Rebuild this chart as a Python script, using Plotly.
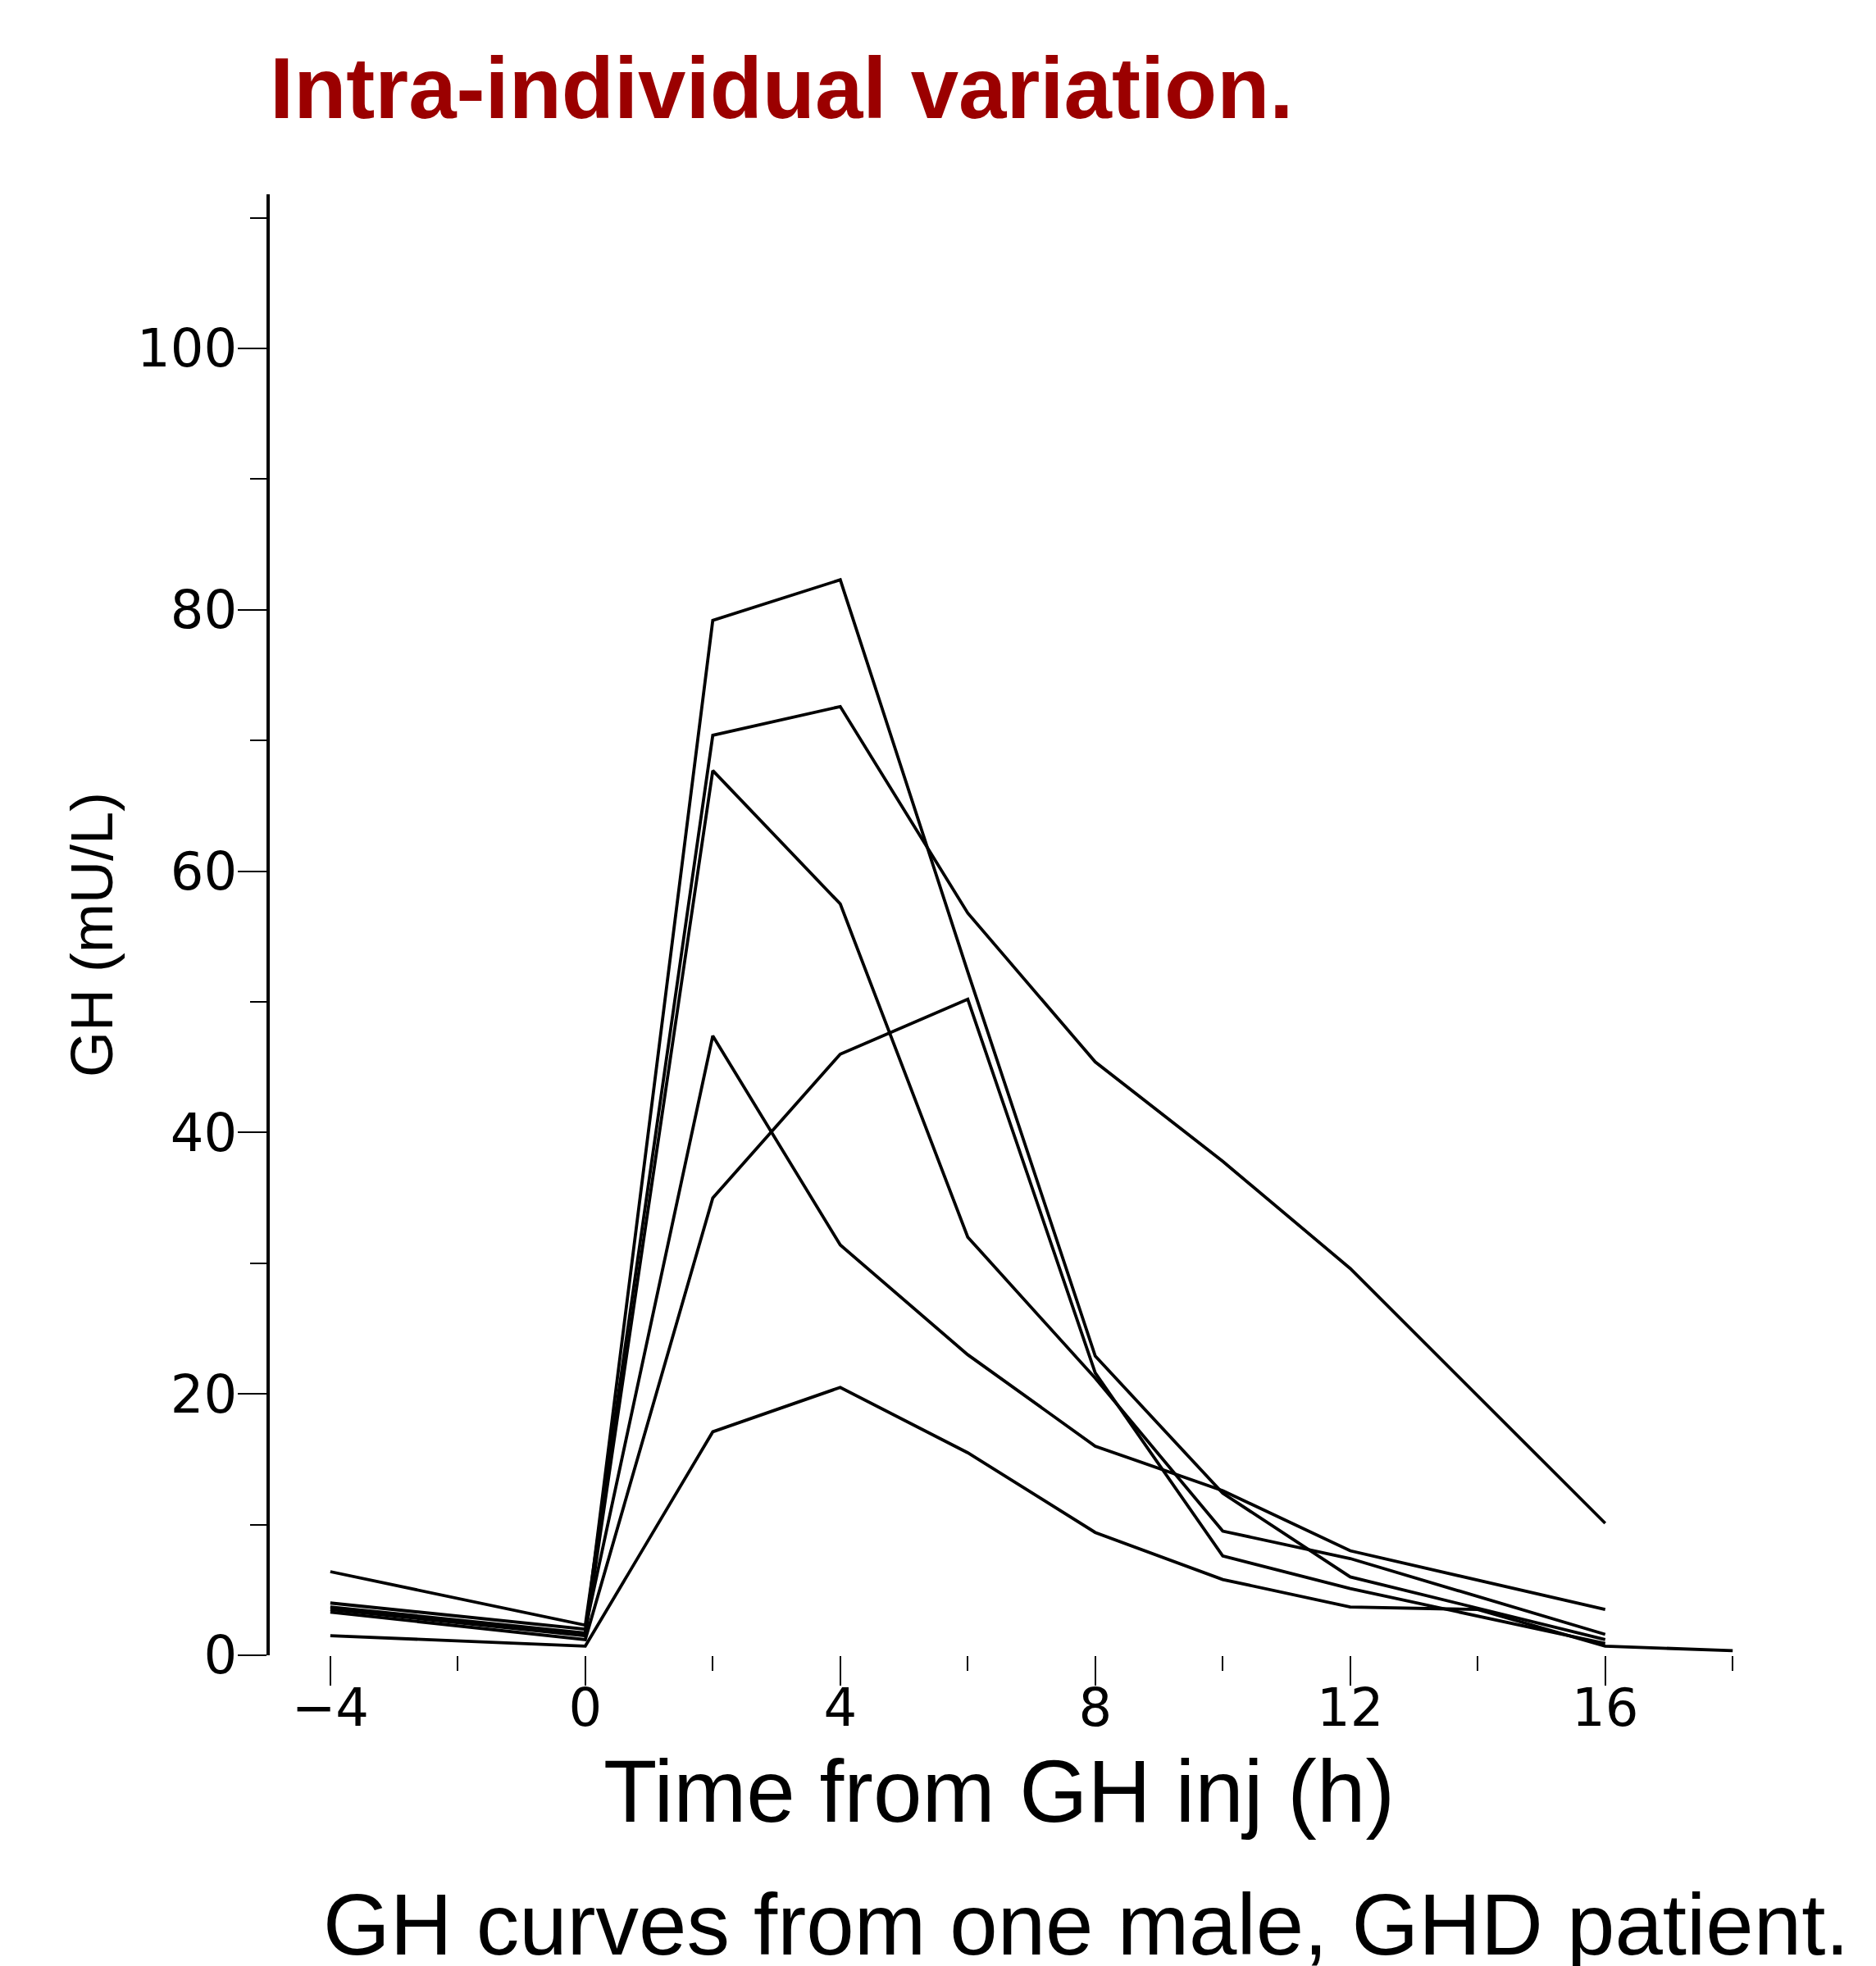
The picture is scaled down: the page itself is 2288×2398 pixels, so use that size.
import plotly.graph_objects as go

# --- data ---
t_std = [-4, 0, 2, 4, 6, 8, 10, 12, 16]
gh_a = [3.7, 1.7, 79.2, 82.3, 52.3, 22.9, 12.4, 6.0, 1.2]
gh_b = [6.4, 2.3, 70.4, 72.6, 56.8, 45.4, 37.8, 29.6, 10.1]
gh_c = [3.5, 1.5, 67.7, 57.5, 32.0, 21.2, 9.5, 7.4, 1.6]
gh_d = [4.0, 2.0, 47.4, 31.4, 23.0, 16.0, 12.6, 8.0, 3.5]
gh_e = [3.3, 1.2, 35.0, 46.0, 50.2, 21.6, 7.6, 5.1, 0.9]
t_f = [-4, 0, 2, 4, 6, 8, 10, 12, 14, 16, 18]
gh_f = [1.5, 0.7, 17.1, 20.5, 15.5, 9.4, 5.8, 3.7, 3.5, 0.7, 0.35]

curves = [(t_std, gh_a), (t_std, gh_b), (t_std, gh_c),
          (t_std, gh_d), (t_std, gh_e), (t_f, gh_f)]

title_text = "Intra-individual variation."
x_title = "Time from GH inj (h)"
y_title = "GH (mU/L)"
subtitle = "GH curves from one male, GHD patient."

# layout geometry (pixels)
W_FIG, H_FIG = 2288, 2398
L, T = 321, 229
PW, PH = 1792, 1782
R = W_FIG - L - PW
B = H_FIG - T - PH


def px(x):
    return (x - L) / PW


def py(y):
    return (T + PH - y) / PH


fig = go.Figure()
for tx, ty in curves:
    fig.add_trace(go.Scatter(x=tx, y=ty, mode="lines",
                             line=dict(color="black", width=3.8),
                             showlegend=False, hoverinfo="skip"))

fig.update_layout(
    width=W_FIG, height=H_FIG,
    margin=dict(l=L, r=R, t=T, b=B, pad=0),
    paper_bgcolor="white", plot_bgcolor="white",
    xaxis=dict(range=[-4.95, 18.1], tickmode="linear", tick0=0, dtick=4,
               ticks="outside", ticklen=36, tickwidth=2, tickcolor="black",
               showline=False, showgrid=False, zeroline=False, automargin=False,
               tickfont=dict(family="DejaVu Sans", size=64, color="black"),
               minor=dict(tick0=0, dtick=2, ticks="outside", ticklen=18,
                          tickwidth=2, tickcolor="black", showgrid=False)),
    yaxis=dict(range=[0, 111.8], tickmode="linear", tick0=0, dtick=20,
               ticks="outside", ticklen=35, tickwidth=2, tickcolor="black",
               showline=True, linewidth=4, linecolor="black",
               showgrid=False, zeroline=False, automargin=False,
               tickfont=dict(family="DejaVu Sans", size=64, color="black"),
               minor=dict(tick0=0, dtick=10, ticks="outside", ticklen=20,
                          tickwidth=2, tickcolor="black", showgrid=False)),
)

try:
    fig.update_xaxes(ticklabelstandoff=-28)
    fig.update_yaxes(ticklabelstandoff=-12)
except Exception:
    pass

fig.add_annotation(text="<b>" + title_text + "</b>", xref="paper", yref="paper",
                   x=px(319), y=py(99), xanchor="left", yanchor="middle",
                   showarrow=False,
                   font=dict(family="Liberation Sans", size=105, color="#9B0000"))
fig.add_annotation(text=x_title, xref="paper", yref="paper",
                   x=px(1210), y=py(2177), xanchor="center", yanchor="middle",
                   showarrow=False,
                   font=dict(family="Liberation Sans", size=107, color="black"))
fig.add_annotation(text=subtitle, xref="paper", yref="paper",
                   x=px(384), y=py(2339), xanchor="left", yanchor="middle",
                   showarrow=False,
                   font=dict(family="Liberation Sans", size=105, color="black"))
fig.add_annotation(text=y_title, xref="paper", yref="paper",
                   x=px(104), y=py(1132), xanchor="center", yanchor="middle",
                   textangle=-90, showarrow=False,
                   font=dict(family="Liberation Sans", size=72, color="black"))

fig.write_html("out.html")
